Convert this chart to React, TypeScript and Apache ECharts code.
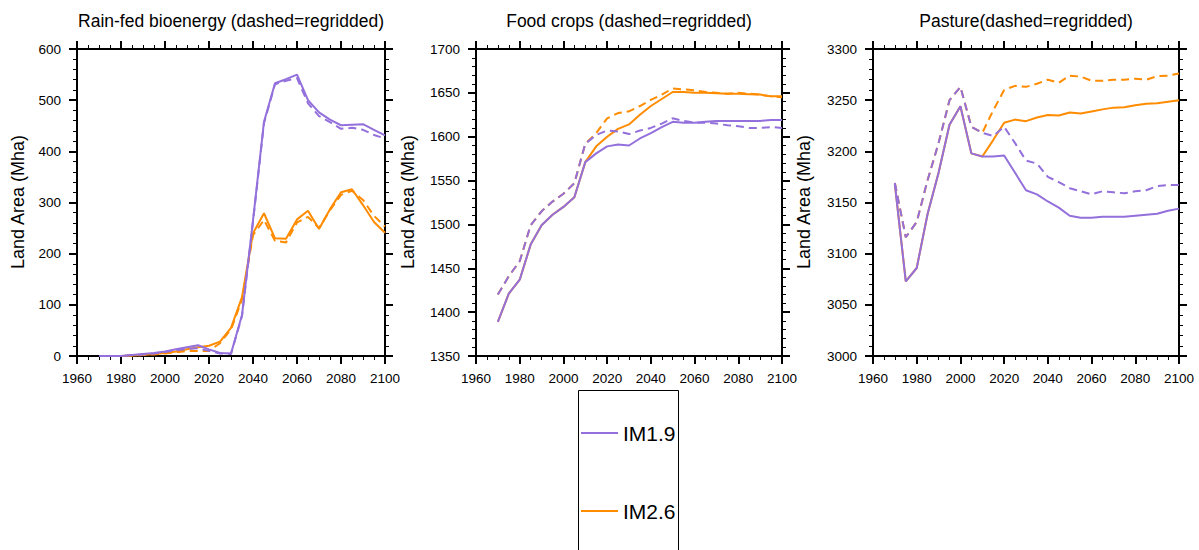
import React, { useEffect, useRef } from "react";
import * as echarts from "echarts";

const years = [1970,1975,1980,1985,1990,1995,2000,2005,2010,2015,2020,2025,2030,2035,2040,2045,2050,2055,2060,2065,2070,2075,2080,2085,2090,2095,2100];

const panelTitles = ["Rain-fed bioenergy (dashed=regridded)", "Food crops (dashed=regridded)", "Pasture(dashed=regridded)"];
const yAxisName = "Land Area (Mha)";
const scenarioNames = ["IM1.9", "IM2.6"];
const xTicks = [1960, 2100, 20];
const yRanges = [[0, 600, 100], [1350, 1700, 50], [3000, 3300, 50]];

// Rain-fed bioenergy
const bioIM19 = [0,0,0,2,4,6,9,13,17,21,13,6,5,80,265,458,533,541,550,500,476,462,451,452,453,442,431];
const bioIM19Regrid = [0,0,0,2,3,5,8,11,14,15,10,5,4,78,262,455,531,538,543,494,469,457,444,446,442,432,425];
const bioIM26 = [0,0,0,1,2,4,6,9,13,17,20,28,55,115,240,279,230,229,267,284,248,287,320,326,295,262,241];
const bioIM26Regrid = [0,0,0,1,2,3,5,7,10,10,10,25,52,110,236,266,225,222,261,272,250,285,315,323,305,274,253];

// Food crops
const foodIM19 = [1389,1421,1437,1477,1499,1511,1520,1531,1571,1581,1589,1591,1590,1598,1604,1611,1617,1616,1616,1617,1618,1618,1618,1618,1618,1619,1619];
const foodIM19Regrid = [1420,1441,1458,1499,1515,1526,1535,1547,1592,1602,1607,1606,1603,1607,1610,1615,1621,1618,1616,1616,1615,1613,1612,1610,1610,1611,1610];
const foodIM26 = [1389,1421,1437,1477,1499,1511,1520,1531,1571,1589,1600,1609,1614,1625,1635,1643,1651,1651,1650,1650,1649.5,1649,1649,1648.5,1648,1646,1646];
const foodIM26Regrid = [1420,1441,1458,1499,1515,1526,1535,1547,1592,1604,1621,1627,1629,1635,1642,1648,1655,1654,1653,1651,1650,1649,1650,1649,1648,1646,1645];

// Pasture
const pastIM19 = [3168,3073,3086,3139,3179,3226,3244,3198,3195,3195,3196,3179,3162,3158,3151,3145,3137,3135,3135,3136,3136,3136,3137,3138,3139,3142,3144];
const pastIM19Regrid = [3169,3116,3131,3172,3208,3250,3263,3224,3218,3215,3224,3208,3191,3188,3175,3170,3164,3161,3158,3161,3160,3159,3161,3162,3166,3167,3167];
const pastIM26 = [3168,3073,3086,3139,3179,3226,3244,3198,3195,3211,3228,3231,3229.5,3233,3235.5,3235,3238,3237,3239,3241,3242.7,3243,3245,3246.5,3247,3248.5,3250];
const pastIM26Regrid = [3169,3116,3131,3172,3208,3250,3263,3224,3218,3240,3260,3264,3263,3266,3270,3267,3274,3273,3269,3269,3270,3270,3271,3270,3273.5,3274,3276];

const panelData = [
  { im19: bioIM19, im19r: bioIM19Regrid, im26: bioIM26, im26r: bioIM26Regrid },
  { im19: foodIM19, im19r: foodIM19Regrid, im26: foodIM26, im26r: foodIM26Regrid },
  { im19: pastIM19, im19r: pastIM19Regrid, im26: pastIM26, im26r: pastIM26Regrid },
];

const PURPLE = "#9370DB";
const ORANGE = "#FF8C00";
const FONT = "Liberation Sans";

const grids = [
  { left: 77, top: 49, width: 308, height: 307 },
  { left: 476, top: 49, width: 306, height: 307 },
  { left: 873, top: 49, width: 306, height: 307 },
];

export default function App() {
  const ref = useRef<HTMLDivElement>(null);
  useEffect(() => {
    if (!ref.current) return;
    const chart = echarts.init(ref.current, null, { renderer: "svg" });

    const axisLine = { show: true, onZero: false, lineStyle: { color: "#000", width: 2 } };
    const axisTick = { show: true, length: 8, lineStyle: { color: "#000", width: 2 } };
    const fmt = (v: number) => String(v);

    const xAxes: any[] = [];
    const yAxes: any[] = [];
    ["bottom", "top"].forEach((pos) => {
      grids.forEach((_, gi) => {
        xAxes.push({
          type: "value",
          gridIndex: gi,
          position: pos,
          min: xTicks[0],
          max: xTicks[1],
          interval: xTicks[2],
          axisLine,
          axisTick,
          minorTick: { show: true, splitNumber: 4, length: 4, lineStyle: { color: "#000", width: 1 } },
          splitLine: { show: false },
          axisLabel: pos === "bottom"
            ? { show: true, margin: 15, fontSize: 13.5, fontFamily: FONT, color: "#000", showMinLabel: true, showMaxLabel: true, formatter: fmt }
            : { show: false },
        });
      });
    });
    ["left", "right"].forEach((pos) => {
      grids.forEach((_, gi) => {
        const r = yRanges[gi];
        yAxes.push({
          type: "value",
          gridIndex: gi,
          position: pos,
          min: r[0],
          max: r[1],
          interval: r[2],
          axisLine,
          axisTick,
          minorTick: { show: true, splitNumber: 5, length: 4, lineStyle: { color: "#000", width: 1 } },
          splitLine: { show: false },
          axisLabel: pos === "left"
            ? { show: true, margin: 16, fontSize: 13.5, fontFamily: FONT, color: "#000", showMinLabel: true, showMaxLabel: true, formatter: fmt }
            : { show: false },
        });
      });
    });

    const series: any[] = [];
    const dash = [8, 5];
    panelData.forEach((p, gi) => {
      const mk = (name: string, arr: number[], color: string, dashed: boolean) => ({
        type: "line",
        name,
        xAxisIndex: gi,
        yAxisIndex: gi,
        data: years.map((y, i) => [y, arr[i]]),
        showSymbol: false,
        symbol: "none",
        silent: true,
        itemStyle: { color },
        lineStyle: { color, width: 2, type: dashed ? dash : "solid" },
      });
      series.push(mk(scenarioNames[1], p.im26, ORANGE, false));
      series.push(mk(scenarioNames[1] + " regridded", p.im26r, ORANGE, true));
      series.push(mk(scenarioNames[0], p.im19, PURPLE, false));
      series.push(mk(scenarioNames[0] + " regridded", p.im19r, PURPLE, true));
    });

    const titleX = [231, 629, 1026];
    const nameX = [18, 408, 804];
    const graphic: any[] = [];
    titleX.forEach((x, i) => {
      graphic.push({
        type: "text",
        x,
        y: 21,
        style: { text: panelTitles[i], fontSize: 17.5, fontFamily: FONT, fill: "#000", align: "center", verticalAlign: "middle" },
      });
      graphic.push({
        type: "text",
        x: nameX[i],
        y: 202,
        rotation: Math.PI / 2,
        style: { text: yAxisName, fontSize: 18, fontFamily: FONT, fill: "#000", align: "center", verticalAlign: "middle" },
      });
    });
    graphic.push({
      type: "rect",
      shape: { x: 578.5, y: 390.5, width: 100, height: 220 },
      style: { fill: "none", stroke: "#000", lineWidth: 1 },
    });

    chart.setOption({
      animation: false,
      grid: grids,
      xAxis: xAxes,
      yAxis: yAxes,
      series,
      graphic,
      legend: {
        data: scenarioNames,
        orient: "vertical",
        left: 581,
        top: 421,
        padding: 0,
        icon: "rect",
        itemWidth: 37,
        itemHeight: 2,
        itemGap: 54,
        selectedMode: false,
        textStyle: { fontSize: 21, fontFamily: FONT, color: "#000", lineHeight: 24 },
      },
    });
    return () => chart.dispose();
  }, []);
  return <div ref={ref} style={{ position: "absolute", left: 0, top: 0, width: 1199, height: 550 }} />;
}
